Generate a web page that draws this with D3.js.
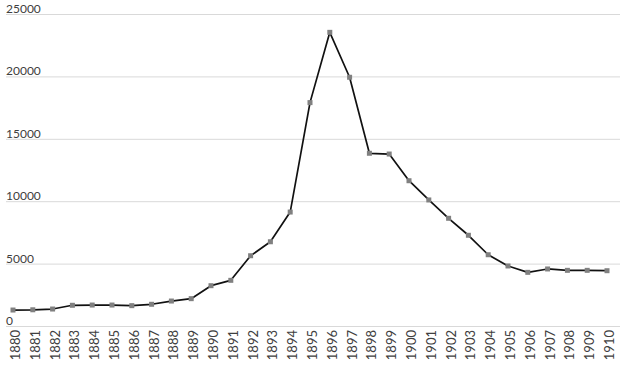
<!DOCTYPE html>
<html>
<head>
<meta charset="utf-8">
<script src="https://cdn.jsdelivr.net/npm/d3@7"></script>
<style>
  body { margin: 0; background: #fff; }
  svg { display: block; font-family: Lato, "Open Sans", sans-serif; }
</style>
</head>
<body>
<svg id="chart" width="620" height="370"></svg>
<script>
const years = ['1880','1881','1882','1883','1884','1885','1886','1887','1888','1889','1890',
  '1891','1892','1893','1894','1895','1896','1897','1898','1899','1900',
  '1901','1902','1903','1904','1905','1906','1907','1908','1909','1910'];
const values = [1280, 1300, 1360, 1660, 1680, 1680, 1630, 1740, 2000, 2190, 3230,
  3660, 5630, 6750, 9130, 17900, 23530, 19930, 13840, 13780, 11640,
  10100, 8630, 7270, 5710, 4810, 4300, 4570, 4460, 4460, 4430];
const yTicks = [0, 5000, 10000, 15000, 20000, 25000];

const svg = d3.select('#chart');
const m = { left: 6, right: 620, top: 14, bottom: 326 };

const x = d3.scalePoint().domain(years).range([13, 607]);
const y = d3.scaleLinear().domain([0, 25000]).range([m.bottom, m.top]);

// gridlines + labels
const grid = svg.append('g');
grid.selectAll('line')
  .data(yTicks)
  .join('line')
  .attr('x1', m.left).attr('x2', m.right)
  .attr('y1', d => y(d) + 0.5).attr('y2', d => y(d) + 0.5)
  .attr('stroke', '#d9d9d9')
  .attr('stroke-width', 1);
grid.selectAll('text')
  .data(yTicks)
  .join('text')
  .attr('x', m.left)
  .attr('y', d => y(d) - 1)
  .attr('font-size', 12)
  .attr('fill', '#404040')
  .text(d => d);

// x labels, rotated
svg.append('g').selectAll('text')
  .data(years)
  .join('text')
  .attr('transform', d => `translate(${x(d) + 7},${m.bottom + 4}) rotate(-90)`)
  .attr('text-anchor', 'end')
  .attr('font-size', 13)
  .attr('fill', '#404040')
  .text(d => d);

const line = d3.line()
  .x((d, i) => x(years[i]))
  .y(d => y(d));

svg.append('path')
  .datum(values)
  .attr('d', line)
  .attr('fill', 'none')
  .attr('stroke', '#111')
  .attr('stroke-width', 1.7)
  .attr('stroke-linejoin', 'round');

svg.append('g').selectAll('rect')
  .data(values)
  .join('rect')
  .attr('x', (d, i) => x(years[i]) - 2.5)
  .attr('y', d => y(d) - 2.5)
  .attr('width', 5).attr('height', 5)
  .attr('fill', '#808080');
</script>
</body>
</html>
